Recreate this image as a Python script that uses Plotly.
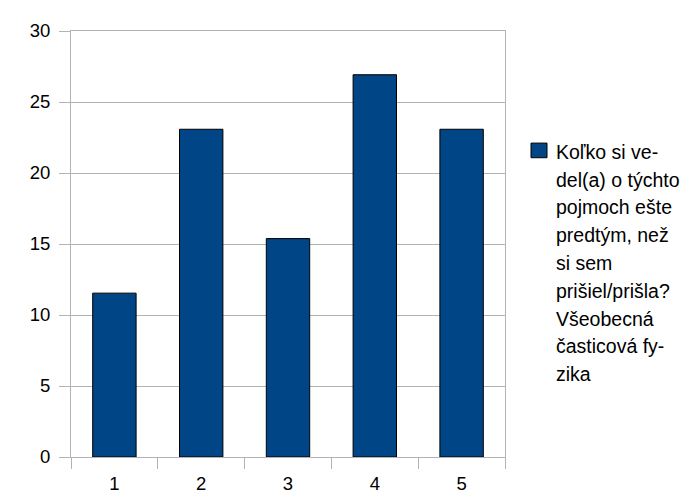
import plotly.graph_objects as go

categories = ["1", "2", "3", "4", "5"]
values = [11.54, 23.08, 15.38, 26.92, 23.08]
legend_lines = [
    "Koľko si ve-",
    "del(a) o týchto",
    "pojmoch ešte",
    "predtým, než",
    "si sem",
    "prišiel/prišla?",
    "Všeobecná",
    "časticová fy-",
    "zika",
]
y_ticks = [0, 5, 10, 15, 20, 25, 30]

W, H = 692, 498
L, R, T, B = 63, 195, 17, 44
FONT = "Liberation Sans, Arial, sans-serif"
FS = 18.5
LFS = 19.5
GRID = "#b3b3b3"

fig = go.Figure()
fig.add_trace(go.Bar(
    x=categories, y=values,
    name=" ".join(legend_lines),
    marker=dict(color="#004586", line=dict(color="#000000", width=1)),
    showlegend=False,
))

fig.update_layout(
    width=W, height=H,
    margin=dict(l=L, r=R, t=T, b=B, pad=0),
    paper_bgcolor="white", plot_bgcolor="white",
    font=dict(family=FONT, size=FS, color="#000000"),
    bargap=0.5,
)
fig.update_xaxes(
    type="category",
    showgrid=False,
    showline=True, linecolor=GRID, linewidth=1, mirror=True,
    ticks="outside", tickson="boundaries", ticklen=11, tickcolor=GRID, tickwidth=1,
    ticklabelstandoff=10,
    zeroline=False,
)
fig.update_yaxes(
    range=[0, 30], tickvals=y_ticks,
    showgrid=True, gridcolor=GRID, gridwidth=1,
    showline=True, linecolor=GRID, linewidth=1, mirror=True,
    ticks="outside", ticklen=11, tickcolor=GRID, tickwidth=1,
    ticklabelstandoff=5,
    zeroline=False,
)

# legend drawn manually to match the multi-line layout
plot_w = W - L - R
plot_h = H - T - B
def px_x(x):
    return (x - L) / plot_w
def px_y(y):
    return (H - B - y) / plot_h

fig.add_shape(type="rect", xref="paper", yref="paper",
              x0=px_x(523), x1=px_x(539), y0=px_y(147), y1=px_y(132),
              fillcolor="#004586", line=dict(color="#000000", width=1))
line_h = 28.5
first = 141
for i, t in enumerate(legend_lines):
    fig.add_annotation(
        xref="paper", yref="paper",
        x=px_x(546), y=px_y(first + i * line_h),
        text=t, showarrow=False, xanchor="left", yanchor="middle",
        font=dict(family=FONT, size=LFS, color="#000000"),
    )

fig.write_html("out.html")
